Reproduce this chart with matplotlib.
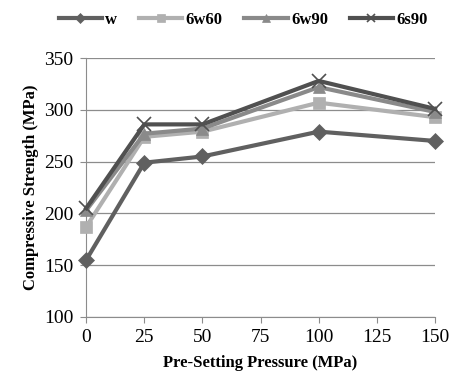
import matplotlib

matplotlib.use("Agg")

import matplotlib.pyplot as plt

pressure = [0, 25, 50, 100, 150]
w = [155, 249, 255, 279, 270]
w60 = [187, 274, 279, 307, 293]
w90 = [203, 277, 282, 322, 298]
s90 = [205, 286, 286, 328, 301]

series = [
    ("w", w, "#606060", "D", 8),
    ("6w60", w60, "#b0b0b0", "s", 9),
    ("6w90", w90, "#8a8a8a", "^", 9),
    ("6s90", s90, "#505050", "x", 10),
]

plt.rcParams["font.family"] = ["Liberation Serif", "DejaVu Serif"]

fig = plt.figure(figsize=(4.56, 3.8), dpi=100)
ax = fig.add_axes([0.189, 0.166, 0.765, 0.681])

for label, vals, color, marker, ms in series:
    ax.plot(pressure, vals, color=color, linewidth=3, marker=marker, markersize=ms,
            markeredgewidth=1.2 if marker == "x" else 0.5, markeredgecolor=color,
            label=label, clip_on=False, zorder=3)

ax.set_xlim(0, 150)
ax.set_ylim(100, 350)
ax.set_xticks(range(0, 151, 25))
ax.set_yticks(range(100, 351, 50))
ax.grid(axis="y", color="#8c8c8c", linewidth=0.9)
ax.set_axisbelow(True)
for side in ("top", "right"):
    ax.spines[side].set_visible(False)
for side in ("left", "bottom"):
    ax.spines[side].set_color("#8c8c8c")
ax.tick_params(axis="both", direction="out", length=4, color="#8c8c8c", labelsize=14, pad=5)
ax.set_xlabel("Pre-Setting Pressure (MPa)", fontsize=12, fontweight="bold", labelpad=6)
ax.set_ylabel("Compressive Strength (MPa)", fontsize=12, fontweight="bold", labelpad=4)

ax.legend(loc="lower center", bbox_to_anchor=(0.45, 1.06), ncol=4, frameon=False,
          prop={"weight": "bold", "size": 12}, handlelength=2.6, columnspacing=1.3,
          handletextpad=0.2, markerscale=0.6)

fig.savefig("out.png", dpi=100)
